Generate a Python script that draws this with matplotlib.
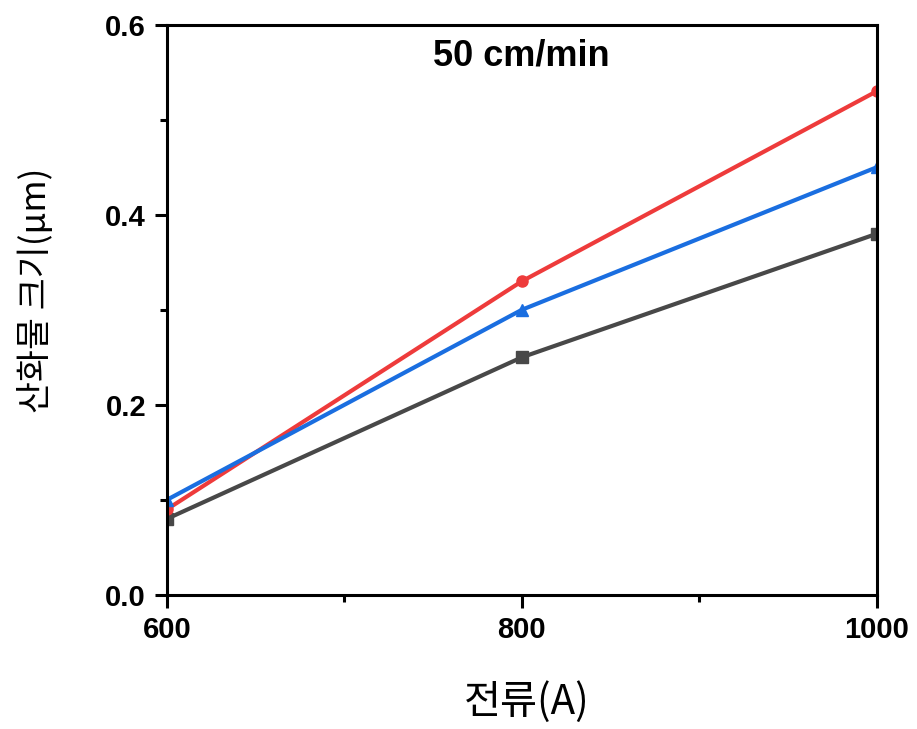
import numpy as np
import matplotlib.pyplot as plt
from matplotlib import font_manager as fm
from matplotlib.ticker import MultipleLocator

current = [600, 800, 1000]
gray_vals = [0.08, 0.25, 0.38]
red_vals = [0.09, 0.33, 0.53]
blue_vals = [0.10, 0.30, 0.45]

# regular-width Liberation Sans Bold (avoid the Narrow variant)
bold_file = None
for f in fm.fontManager.ttflist:
    if f.name == 'Liberation Sans' and f.weight in (700, 'bold') and f.style == 'normal':
        bold_file = f.fname
if bold_file:
    def bfont(size):
        return fm.FontProperties(fname=bold_file, size=size)
else:
    def bfont(size):
        return fm.FontProperties(family='DejaVu Sans', weight='bold', size=size)

fig = plt.figure(figsize=(9.17, 7.29), dpi=100)
ax = fig.add_axes([0.182, 0.184, 0.774, 0.782])

ax.plot(current, gray_vals, color='#484848', marker='s', markersize=8, lw=3)
ax.plot(current, red_vals, color='#ee3b3b', marker='o', markersize=8, lw=3)
ax.plot(current, blue_vals, color='#1a6ee0', marker='^', markersize=8, lw=3)

ax.set_xlim(600, 1000)
ax.set_ylim(0, 0.6)
ax.set_xticks([600, 800, 1000])
ax.set_yticks([0.0, 0.2, 0.4, 0.6])
ax.xaxis.set_minor_locator(MultipleLocator(100))
ax.yaxis.set_minor_locator(MultipleLocator(0.1))
ax.yaxis.set_major_formatter(plt.FuncFormatter(lambda v, p: f'{v:.1f}'))

for s in ax.spines.values():
    s.set_linewidth(2.2)
ax.tick_params(which='major', direction='out', length=9, width=2.2, pad=6)
ax.tick_params(which='minor', direction='out', length=5, width=2.2)
for lbl in ax.get_xticklabels() + ax.get_yticklabels():
    lbl.set_fontproperties(bfont(21))

kr = ['Noto Sans CJK KR', 'DejaVu Sans']
fig.text(527 / 917, 1 - 702 / 729, '전류(A)', family=kr, fontsize=29, ha='center', va='center')
fig.text(36 / 917, 1 - 290 / 729, '산화물 크기(μm)', family=kr, fontsize=25,
         ha='center', va='center', rotation=90)

ax.text(0.5, 0.945, '50 cm/min', transform=ax.transAxes, ha='center', va='center',
        fontproperties=bfont(26))

fig.savefig('out.png', dpi=100)
